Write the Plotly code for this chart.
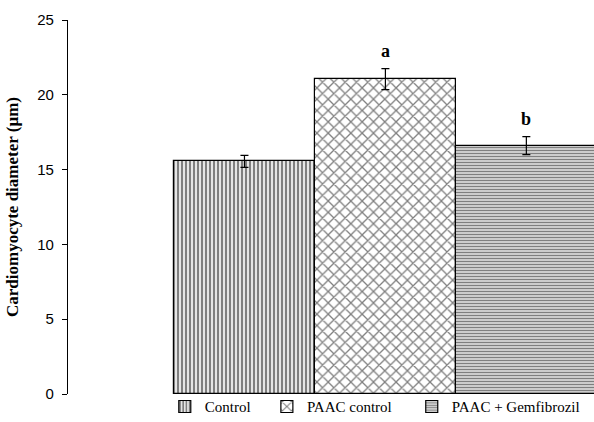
import plotly.graph_objects as go

groups = ["Control", "PAAC control", "PAAC + Gemfibrozil"]
legend_pad = ["\u00a0\u00a0\u00a0", "\u00a0\u00a0\u00a0\u00a0", ""]
means = [15.55, 21.05, 16.6]
errors = [0.4, 0.7, 0.6]
letters = ["", "a", "b"]
patterns = ["|", "x", "-"]
pattern_sizes = [4, 8, 3]
pattern_solidity = [0.6, 0.3, 0.6]
yticks = [0, 5, 10, 15, 20, 25]

fig = go.Figure()
for i, g in enumerate(groups):
    fig.add_trace(go.Bar(
        x=[i], y=[means[i]], name=g + legend_pad[i], width=1,
        marker=dict(color="white", line=dict(color="black", width=1.2),
                    pattern=dict(shape=patterns[i], fgcolor="black", bgcolor="white",
                                 size=pattern_sizes[i], solidity=pattern_solidity[i])),
        error_y=dict(type="data", array=[errors[i]], color="black", thickness=1.2, width=4),
    ))
    if letters[i]:
        fig.add_annotation(x=i, y=means[i] + errors[i], text="<b>" + letters[i] + "</b>",
                           showarrow=False, yanchor="bottom", yshift=6,
                           font=dict(family="Liberation Serif", size=18, color="black"))

fig.update_layout(
    width=594, height=422,
    margin=dict(l=68, r=0, t=20, b=28, autoexpand=False),
    paper_bgcolor="white", plot_bgcolor="white",
    showlegend=True,
    legend=dict(orientation="h", x=0.184, y=0.01, yanchor="top", xanchor="left",
                font=dict(family="Liberation Serif", size=15, color="black"),
                itemwidth=30, bgcolor="rgba(0,0,0,0)"),
    bargap=0,
    font=dict(family="Liberation Sans", color="black"),
)
fig.update_xaxes(range=[-1.252, 2.48], showticklabels=False, showgrid=False,
                 zeroline=False, showline=False, ticks="")
fig.update_yaxes(range=[0, 25], tickvals=yticks, showgrid=False, zeroline=False,
                 showline=True, linecolor="black", linewidth=1.2,
                 ticks="outside", ticklen=5, tickcolor="black", ticklabelstandoff=5,
                 tickfont=dict(family="Liberation Sans", size=15, color="black"),
                 title=dict(text="<b>Cardiomyocyte diameter (µm)</b>", standoff=14,
                            font=dict(family="Liberation Serif", size=17, color="black")))

fig.write_html("out.html", config={"displayModeBar": False},
               post_script="document.body.style.margin='0px';document.body.style.background='white';")
